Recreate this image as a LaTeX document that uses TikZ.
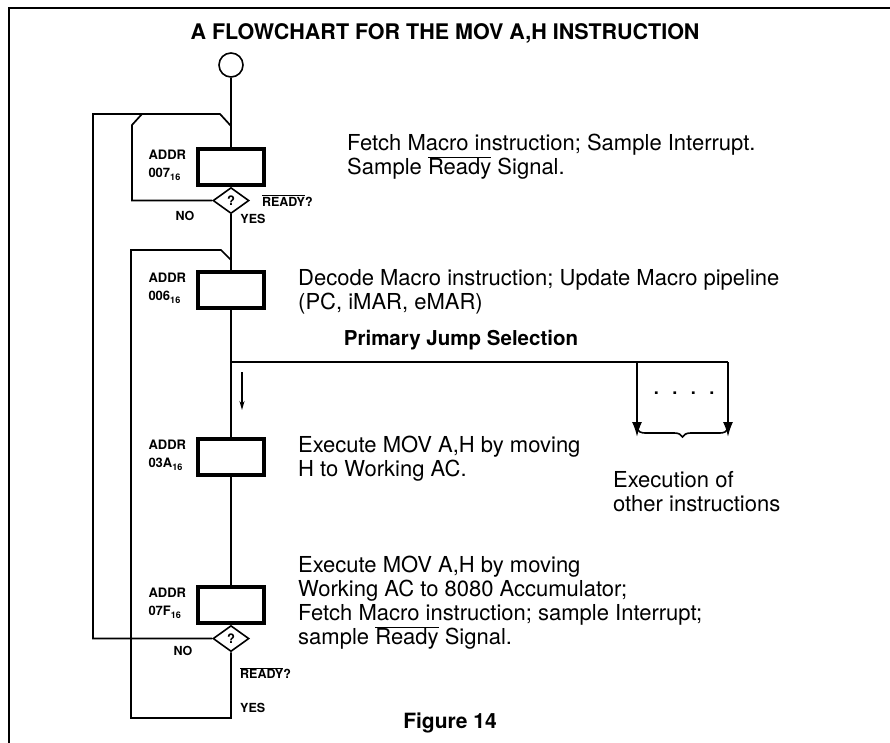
\documentclass[tikz,border=0pt]{standalone}
\usepackage{fontspec}
\setmainfont{TeX Gyre Heros}
\usetikzlibrary{shapes.geometric, arrows.meta, positioning, decorations.pathreplacing}
\newcommand{\ovl}[1]{$\overline{\mbox{#1}}$}

\begin{document}
\begin{tikzpicture}[x=1pt, y=-1pt]
% Define styles
\tikzstyle{mbox} = [rectangle, draw=black, line width=3.5pt, minimum width=66pt, minimum height=36pt, inner sep=0pt]
\tikzstyle{decision} = [diamond, draw=black, line width=1.6pt, minimum width=36pt, minimum height=26pt, inner sep=0pt, font=\bfseries\fontsize{13}{14}\selectfont]
\tikzstyle{addr} = [font=\bfseries\fontsize{13}{18}\selectfont, align=left, anchor=north east, inner sep=0pt]
\tikzstyle{tag} = [font=\bfseries\fontsize{12.5}{14}\selectfont, inner sep=0pt]
\tikzstyle{note} = [font=\fontsize{22}{24}\selectfont, align=left, anchor=west, inner sep=0pt]
\tikzstyle{flow} = [line width=1.7pt, draw=black]
\tikzstyle{arrow} = [-{Latex[length=15pt, width=10pt]}, line width=2pt, draw=black]
\useasboundingbox (0,0) rectangle (890,742);
% Frame and headings
\draw[line width=2pt] (9,760) -- (9,8) -- (900,8);
\node[font=\bfseries\fontsize{21.5}{24}\selectfont] (Title) at (445,33) {A FLOWCHART FOR THE MOV A,H INSTRUCTION};
\node[font=\bfseries\fontsize{21}{24}\selectfont] (FigLabel) at (450,723) {Figure 14};
% Define nodes (microinstructions)
\node[circle, draw=black, line width=1.6pt, minimum size=24pt, inner sep=0pt] (Start) at (231,65) {};
\node[mbox] (FetchBox) at (231,167) {};
\node[decision, below=0pt of FetchBox] (ReadyTest) {?};
\node[mbox] (DecodeBox) at (231,290) {};
\node[mbox] (MoveBox) at (231,457) {};
\node[mbox] (StoreBox) at (231,605) {};
\node[decision, below=0pt of StoreBox] (ReadyTestTwo) {?};
% Addresses
\node[addr] (FetchAddr) at ([xshift=-10pt, yshift=-3pt]FetchBox.north west) {ADDR\\007\textsubscript{16}};
\node[addr] (DecodeAddr) at ([xshift=-10pt, yshift=-3pt]DecodeBox.north west) {ADDR\\006\textsubscript{16}};
\node[addr] (MoveAddr) at ([xshift=-10pt, yshift=-3pt]MoveBox.north west) {ADDR\\03A\textsubscript{16}};
\node[addr] (StoreAddr) at ([xshift=-10pt, yshift=-3pt]StoreBox.north west) {ADDR\\07F\textsubscript{16}};
% Descriptions
\node[note] (FetchNote) at (347,157) {Fetch Macro instruction; Sample Interrupt.\\Sample \ovl{Ready} Signal.};
\node[note] (DecodeNote) at (298,292) {Decode Macro instruction; Update Macro pipeline\\(PC, iMAR, eMAR)};
\node[note] (MoveNote) at (298,459) {Execute MOV A,H by moving\\H to Working AC.};
\node[note] (StoreNote) at (298,603) {Execute MOV A,H by moving\\Working AC to 8080 Accumulator;\\Fetch Macro instruction; sample Interrupt;\\sample \ovl{Ready} Signal.};
\node[font=\bfseries\fontsize{20.5}{24}\selectfont] (JumpLabel) at (461,340) {Primary Jump Selection};
\node[note] (OtherNote) at (613,492) {Execution of\\other instructions};
% Test labels
\node[tag, anchor=west] (ReadyOne) at ([xshift=12pt]ReadyTest.east) {\ovl{READY}?};
\node[tag] (NoOne) at (185,216) {NO};
\node[tag] (YesOne) at (253,219) {YES};
\node[tag] (NoTwo) at (183,651) {NO};
\node[tag, anchor=west] (ReadyTwo) at (240,673) {\ovl{READY}?};
\node[tag, anchor=west] (YesTwo) at (240,708) {YES};
% Loop corners
\coordinate (TopLeft) at (93,114);
\coordinate (InnerNW) at (142,114);
\coordinate (InnerCut) at (132,125);
\coordinate (TopCut) at (220,114);
\coordinate (TopJoin) at (231,126);
\coordinate (MidLeft) at (131,250);
\coordinate (MidCut) at (221,250);
\coordinate (MidJoin) at (231,260);
\coordinate (BotRight) at (231,718);
\coordinate (BotLeft) at (131,718);
\coordinate (Fork) at (231,362);
\coordinate (ForkA) at (637,362);
\coordinate (ForkB) at (728,362);
% Relationships (lines)
\draw[flow] (Start) -- (FetchBox);
\draw[flow] (ReadyTest) -- (DecodeBox);
\draw[flow] (DecodeBox) -- (MoveBox);
\draw[flow] (MoveBox) -- (StoreBox);
\draw[flow] (ReadyTest.west) -- (InnerCut |- ReadyTest.west) -- (InnerCut) -- (InnerNW);
\draw[flow] (ReadyTestTwo.west) -- (TopLeft |- ReadyTestTwo.west) -- (TopLeft) -- (TopCut) -- (TopJoin);
\draw[flow] (ReadyTestTwo.south) -- (BotRight) -- (BotLeft) -- (MidLeft) -- (MidCut) -- (MidJoin);
\draw[flow] (Fork) -- (ForkB);
\draw[arrow] (ForkA) -- ++(0,75) coordinate (EndA);
\draw[arrow] (ForkB) -- ++(0,75) coordinate (EndB);
\draw[-{Stealth[length=9pt, width=5pt]}, line width=1.5pt] (242,372) -- (242,410);
\node[font=\bfseries\fontsize{18}{20}\selectfont] (Dots) at (684,393) {.\hspace{13.5pt}.\hspace{13.5pt}.\hspace{13.5pt}.};
\draw[line width=1.6pt, decorate, decoration={brace, mirror, amplitude=8pt}] ([yshift=8pt]EndA) -- ([yshift=8pt]EndB);
\end{tikzpicture}
\end{document}
